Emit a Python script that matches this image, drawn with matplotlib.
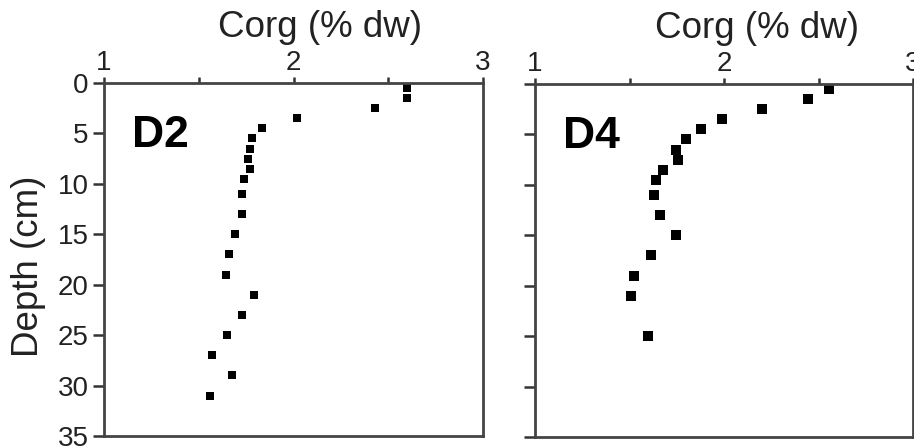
import numpy as np
import matplotlib
matplotlib.use('Agg')
import matplotlib.pyplot as plt

plt.rcParams['font.family'] = ['Liberation Sans', 'DejaVu Sans']

# core D2: depth (cm) and organic carbon (% dry weight)
d2_depth = [0.5, 1.5, 2.5, 3.5, 4.5, 5.5, 6.5, 7.5, 8.5, 9.5, 11, 13, 15, 17, 19, 21, 23, 25, 27, 29, 31]
d2_corg = [2.60, 2.60, 2.43, 2.02, 1.835, 1.78, 1.77, 1.76, 1.77, 1.74, 1.73, 1.73,
           1.69, 1.66, 1.645, 1.79, 1.73, 1.65, 1.57, 1.675, 1.56]

# core D4
d4_depth = [0.5, 1.5, 2.5, 3.5, 4.5, 5.5, 6.5, 7.5, 8.5, 9.5, 11, 13, 15, 17, 19, 21, 25]
d4_corg = [2.556, 2.446, 2.20, 1.99, 1.877, 1.797, 1.746, 1.755, 1.676, 1.64, 1.63, 1.66,
           1.746, 1.614, 1.525, 1.51, 1.596]

x_ticks = [1, 1.5, 2, 2.5, 3]
x_labels = ['1', '', '2', '', '3']
y_ticks = [0, 5, 10, 15, 20, 25, 30, 35]

W, H = 914, 448
fig = plt.figure(figsize=(W / 100, H / 100), dpi=100)

def make_ax(left, right, top, bottom):
    return fig.add_axes([left / W, 1 - bottom / H, (right - left) / W, (bottom - top) / H])

ax1 = make_ax(104, 483, 83, 436)
ax2 = make_ax(535, 913, 84, 437)

# axes, data, panel name, marker size, show y labels, xlabel x pos (axes frac)
panels = [(ax1, d2_corg, d2_depth, 'D2', 5.8, True, 0.57),
          (ax2, d4_corg, d4_depth, 'D4', 7.0, False, 0.587)]

for ax, corg, depth, name, ms, show_y, lx in panels:
    ax.plot(corg, depth, 's', color='black', markersize=ms, markeredgewidth=0)
    ax.set_xlim(1, 3)
    ax.set_ylim(35, 0)
    ax.xaxis.tick_top()
    ax.set_xticks(x_ticks)
    ax.set_xticklabels(x_labels)
    ax.set_yticks(y_ticks)
    if not show_y:
        ax.set_yticklabels([])
    else:
        ax.text(-0.198, 0.48, 'Depth (cm)', transform=ax.transAxes, rotation=90,
                fontsize=26.5, color='#222222', ha='center', va='center')
    ax.text(lx, 1.13, 'Corg (% dw)', transform=ax.transAxes, fontsize=26.5,
            color='#222222', ha='center', va='baseline')
    ax.tick_params(axis='y', direction='out', length=8, width=1.8, color='#333333',
                   labelsize=20, labelcolor='#222222', pad=3)
    ax.tick_params(axis='x', direction='out', length=4, width=1.8, color='#333333',
                   labelsize=20, labelcolor='#222222', pad=1)
    for sp in ax.spines.values():
        sp.set_linewidth(2)
        sp.set_color('#444444')
    ax.text(0.075, 0.82, name, transform=ax.transAxes, fontsize=32, fontweight='bold',
            color='black', ha='left', va='baseline')

fig.savefig('out.png', dpi=100)
